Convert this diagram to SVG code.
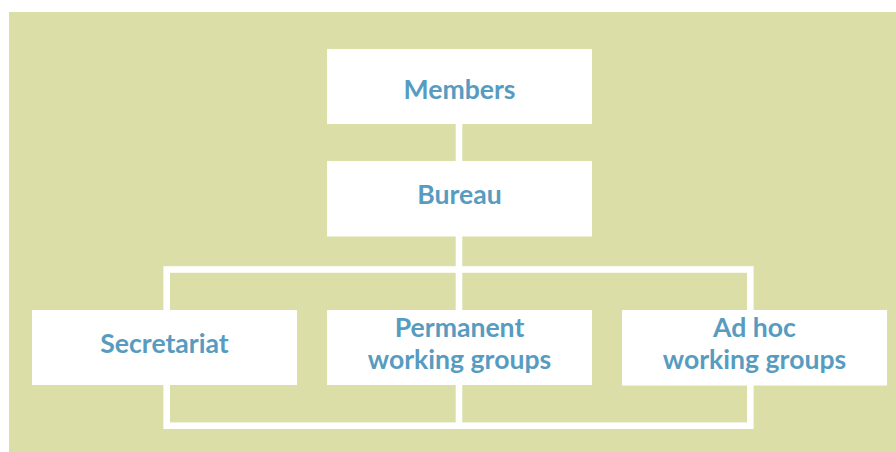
<svg xmlns="http://www.w3.org/2000/svg" width="896" height="452" viewBox="0 0 896 452">
  <style>
    .bg { fill: #dbdea6; }
    .box { fill: #ffffff; }
    .line { fill: none; stroke: #ffffff; stroke-width: 6.6; }
    .label { font-family: Lato, "Open Sans", sans-serif; font-weight: bold; font-size: 26.6px; fill: #579cc0; text-anchor: middle; }
  </style>
  <rect class="bg" x="9" y="12" width="887" height="440"/>

  <!-- connectors -->
  <g id="connectors">
    <line class="line" x1="459" y1="124" x2="459" y2="161"/>
    <line class="line" x1="459" y1="236" x2="459" y2="426"/>
    <rect class="line" x="166.7" y="269.5" width="583.6" height="156.2"/>
  </g>

  <g id="members">
    <rect class="box" x="327" y="49" width="265" height="75"/>
    <text class="label" x="459.5" y="98.5">Members</text>
  </g>

  <g id="bureau">
    <rect class="box" x="327" y="161" width="265" height="75.5"/>
    <text class="label" x="459.5" y="203.5">Bureau</text>
  </g>

  <g id="secretariat">
    <rect class="box" x="32" y="310" width="265" height="75"/>
    <text class="label" x="164.5" y="353">Secretariat</text>
  </g>

  <g id="permanent-working-groups">
    <rect class="box" x="327" y="310" width="265" height="75"/>
    <text class="label" x="459.5" y="336.5">Permanent</text>
    <text class="label" x="459.5" y="369">working groups</text>
  </g>

  <g id="ad-hoc-working-groups">
    <rect class="box" x="622" y="310" width="265" height="75.5"/>
    <text class="label" x="754.5" y="336.5">Ad hoc</text>
    <text class="label" x="754.5" y="369">working groups</text>
  </g>
</svg>
